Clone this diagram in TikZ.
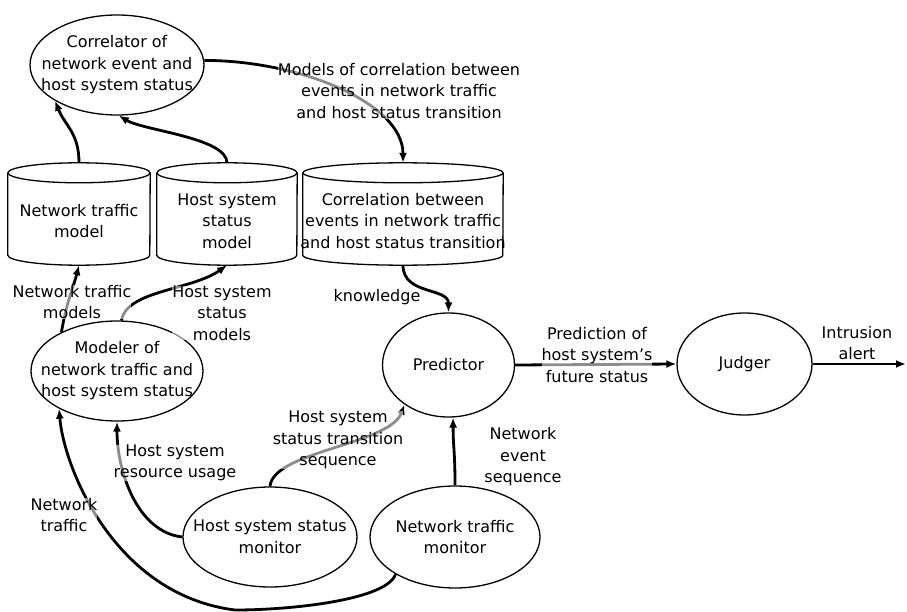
\documentclass[tikz,border=0pt]{standalone}
\usepackage{fontspec}
\setmainfont{DejaVu Sans}
\usetikzlibrary{arrows.meta,shapes.geometric}
\begin{document}
\begin{tikzpicture}[x=1pt,y=-1pt,
  every node/.style={font=\fontsize{16}{21.5}\selectfont, align=center, inner sep=0pt},
  proc/.style={draw, ellipse, line width=1.3pt, inner sep=0pt},
  dbox/.style={rectangle, inner sep=0pt, minimum height=102pt},
  dbline/.style={line width=1.3pt},
  conn/.style={line width=2.8pt, -{Latex[length=10pt,width=8pt]}},
  lbl/.style={fill=white, fill opacity=0.55, text opacity=1}]
\useasboundingbox (0,0) rectangle (907,612);

% processes
\node[proc, minimum width=174pt, minimum height=100pt,
  label={center:Correlator of\\network event and\\host system status}] (corr) at (117,65) {};
\node[proc, minimum width=172pt, minimum height=100pt,
  label={center:Modeler of\\network traffic and\\host system status}] (mod) at (117,371) {};
\node[proc, minimum width=132pt, minimum height=104pt,
  label={center:Predictor}] (pred) at (448.5,365) {};
\node[proc, minimum width=135pt, minimum height=102pt,
  label={center:Judger}] (jud) at (744.5,364) {};
\node[proc, minimum width=174pt, minimum height=100pt,
  label={center:Host system status\\monitor}] (hmon) at (270,537) {};
\node[proc, minimum width=170pt, minimum height=102pt,
  label={center:Network traffic\\monitor}] (nmon) at (455,537) {};

% data stores
\node[dbox, minimum width=142pt] (ntm) at (79,214) {};
\node[dbox, minimum width=140pt] (hsm) at (227,214) {};
\node[dbox, minimum width=200pt] (cdb) at (403,214) {};
\foreach \n/\r in {ntm/71, hsm/70, cdb/100} {
  \draw[dbline] ([yshift=-10pt]\n.north west) -- ([yshift=10pt]\n.south west)
     arc[start angle=180, end angle=360, x radius=\r pt, y radius=10pt]
     -- ([yshift=-10pt]\n.north east);
  \draw[dbline] ([yshift=-10pt]\n.north) ellipse [x radius=\r pt, y radius=10pt];
}
\node at (79,221) {Network traffic\\model};
\node at (227,221) {Host system\\status\\model};
\node at (403,221) {Correlation between\\events in network traffic\\and host status transition};

\coordinate (low) at (235,610);
\coordinate (outpt) at (906,364);

% connectors
\draw[conn] (corr.3) .. controls +(95,0) and +(0,-60) .. (cdb.north);
\draw[conn] (ntm.north) .. controls +(0,-30) and +(10,25) .. (corr.210);
\draw[conn] (hsm.north) .. controls +(0,-25) and +(25,15) .. (corr.-88);
\draw[conn] (mod.145) .. controls +(5,-30) and +(-5,20) .. (ntm.south);
\draw[conn] (mod.85) .. controls +(5,-30) and +(-35,25) .. (hsm.south);
\draw[conn] (cdb.south) .. controls +(0,30) and +(0,-25) .. (pred.north);
\draw[conn] (pred.east) -- (jud.west);
\draw[conn] (jud.east) -- (outpt);
\draw[conn] (hmon.north) .. controls +(3,-35) and +(-15,40) .. (pred.222);
\draw[conn] (nmon.north) .. controls +(0,-35) and +(0,30) .. (pred.-85);
\draw[conn] (hmon.west) .. controls +(-45,-5) and +(0,50) .. (mod.south);
\draw[conn] (nmon.212) .. controls +(-8,25) and +(60,0) .. (low)
   .. controls +(-120,-15) and +(5,60) .. (mod.213);

% connector labels
\node[lbl] at (399,91) {Models of correlation between\\events in network traffic\\and host status transition};
\node[lbl] at (72,302) {Network traffic\\models};
\node[lbl] at (222,313) {Host system\\status\\models};
\node[lbl] at (377,297) {knowledge};
\node[lbl] at (597,355) {Prediction of\\host system's\\future status};
\node[lbl] at (857,343) {Intrusion\\alert};
\node[lbl] at (338,440) {Host system\\status transition\\sequence};
\node[lbl] at (523,457) {Network\\event\\sequence};
\node[lbl] at (175,463) {Host system\\resource usage};
\node[lbl] at (64,515) {Network\\traffic};
\end{tikzpicture}
\end{document}
